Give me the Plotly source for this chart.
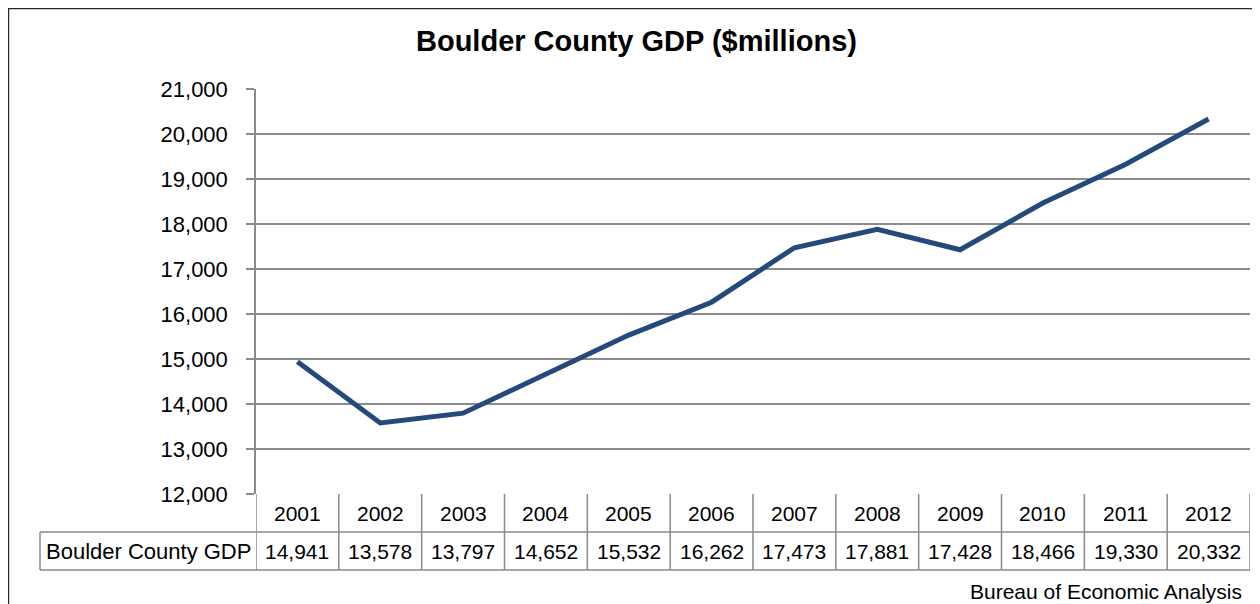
import plotly.graph_objects as go

years = ["2001", "2002", "2003", "2004", "2005", "2006", "2007", "2008", "2009", "2010", "2011", "2012"]
gdp = [14941, 13578, 13797, 14652, 15532, 16262, 17473, 17881, 17428, 18466, 19330, 20332]
series_name = "Boulder County GDP"
title_text = "Boulder County GDP ($millions)"
source_text = "Bureau of Economic Analysis"
y_ticks = list(range(12000, 21001, 1000))

FONT = "Liberation Sans, Arial, sans-serif"
LINE_COLOR = "#244A7C"
GRID = "#8A8A8A"

xs = list(range(len(years)))

fig = go.Figure()
fig.add_trace(go.Scatter(
    x=xs, y=gdp, mode="lines", name=series_name,
    line=dict(color=LINE_COLOR, width=5),
    hoverinfo="skip",
))

# Page has an 8px body margin; work in reference pixels and shift by OFF
OFF = 8
W, H = 1260 - OFF, 604 - OFF
L, R, T, B = 256 - OFF, 1250 - OFF, 89 - OFF, 494 - OFF
pw, ph = R - L, B - T

def px_x(p):
    return (p - OFF - L) / pw

def px_y(p):
    return (B - (p - OFF)) / ph

row1_bot = px_y(532)
row2_bot = px_y(570)
label_left = px_x(40)
xmin, xmax = -0.5, len(years) - 0.5

shapes = []
line_style = dict(color=GRID, width=1.5)
for i in range(len(years) + 1):
    shapes.append(dict(type="line", xref="x", yref="paper", x0=i - 0.5, x1=i - 0.5,
                       y0=0, y1=row2_bot, line=line_style, layer="below"))
for yy in (row1_bot, row2_bot):
    shapes.append(dict(type="line", xref="x", yref="paper", x0=xmin, x1=xmax,
                       y0=yy, y1=yy, line=line_style, layer="below"))
for yy in (row1_bot, row2_bot):
    shapes.append(dict(type="line", xref="paper", yref="paper", x0=label_left, x1=0,
                       y0=yy, y1=yy, line=line_style, layer="below"))
shapes.append(dict(type="line", xref="paper", yref="paper", x0=label_left, x1=label_left,
                   y0=row1_bot, y1=row2_bot, line=line_style, layer="below"))
# chart outer border (left/top edges, as close to the page edge as possible)
shapes.append(dict(type="rect", xref="paper", yref="paper",
                   x0=px_x(8.6), x1=px_x(1280), y0=px_y(8.6), y1=px_y(620),
                   line=dict(color="#262626", width=1.2), fillcolor="rgba(0,0,0,0)", layer="below"))

annotations = []
row1_mid = (0 + row1_bot) / 2
row2_mid = (row1_bot + row2_bot) / 2
for i, (yr, v) in enumerate(zip(years, gdp)):
    annotations.append(dict(x=i, y=row1_mid, xref="x", yref="paper", text=yr,
                            showarrow=False, font=dict(family=FONT, size=21, color="black"),
                            xanchor="center", yanchor="middle"))
    annotations.append(dict(x=i, y=row2_mid, xref="x", yref="paper", text=f"{v:,}",
                            showarrow=False, font=dict(family=FONT, size=21, color="black"),
                            xanchor="center", yanchor="middle"))
annotations.append(dict(x=(label_left + 0) / 2, y=row2_mid, xref="paper", yref="paper",
                        text=series_name, showarrow=False,
                        font=dict(family=FONT, size=22, color="black"),
                        xanchor="center", yanchor="middle"))
annotations.append(dict(x=px_x(1244), y=px_y(591), xref="paper", yref="paper",
                        text=source_text, showarrow=False,
                        font=dict(family=FONT, size=21, color="black"),
                        xanchor="right", yanchor="middle"))
annotations.append(dict(x=px_x(636), y=px_y(41), xref="paper", yref="paper",
                        text="<b>" + title_text + "</b>", showarrow=False,
                        font=dict(family=FONT, size=29, color="black"),
                        xanchor="center", yanchor="middle"))

fig.update_layout(
    width=W, height=H,
    margin=dict(l=L, r=W - R, t=T, b=H - B, pad=0),
    paper_bgcolor="white", plot_bgcolor="white",
    showlegend=False,
    shapes=shapes, annotations=annotations,
    xaxis=dict(range=[xmin, xmax], showticklabels=False, showgrid=False,
               zeroline=False, showline=False, ticks=""),
    yaxis=dict(range=[12000, 21000], tickvals=y_ticks, tickformat=",d",
               showgrid=True, gridcolor=GRID, gridwidth=1.5,
               showline=True, linecolor=GRID, linewidth=1.5,
               ticks="outside", ticklen=8, tickcolor=GRID, tickwidth=1.5,
               ticklabelstandoff=14,
               zeroline=False,
               tickfont=dict(family=FONT, size=22, color="black")),
)

fig.write_html("out.html")
